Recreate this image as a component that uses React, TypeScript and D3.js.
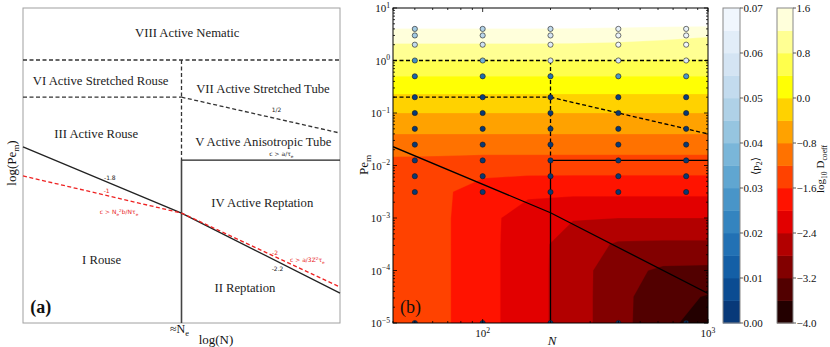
import React, { useEffect, useRef } from 'react'
import * as d3 from 'd3'

// ---------- panel (b) data ----------
const chainLengths = [50, 100, 200, 400, 800]
const pecletValues = [4, 3, 2, 1, 0.5, 0.2, 0.1, 0.05, 0.025, 0.0125, 0.00625, 0.003125, 1e-5]
// <p2> per chain length, same order as pecletValues
const p2N50 = [0.045, 0.045, 0.052, 0.026, 0.014, 0.004, 0.002, 0.002, 0.002, 0.002, 0.002, 0.002, 0.002]
const p2N100 = [0.048, 0.05, 0.055, 0.036, 0.016, 0.004, 0.002, 0.002, 0.002, 0.002, 0.002, 0.002, 0.002]
const p2N200 = [0.052, 0.058, 0.062, 0.058, 0.018, 0.003, 0.002, 0.002, 0.002, 0.002, 0.002, 0.002, 0.002]
const p2N400 = [0.064, 0.066, 0.068, 0.06, 0.028, 0.004, 0.002, 0.002, 0.002, 0.002, 0.002, 0.002, 0.002]
const p2N800 = [0.064, 0.066, 0.068, 0.062, 0.028, 0.004, 0.002, 0.002, 0.002, 0.002, 0.002, 0.002, 0.002]
const p2Table = [p2N50, p2N100, p2N200, p2N400, p2N800]

// log10 D_coeff field, sampled on a log grid (rows = gridLogPe, cols = gridN)
const gridN = [40, 63, 100, 158, 251, 398, 631, 1000]
const gridLogPe = [-5, -4.5, -4, -3.5, -3, -2.5, -2, -1.5, -1, -0.5, 0, 0.5, 1]
const logDRows = [
  [-1.45, -1.5, -1.85, -2.24, -2.59, -3.07, -3.47, -3.83],
  [-1.45, -1.5, -1.85, -2.24, -2.59, -3.07, -3.45, -3.63],
  [-1.45, -1.5, -1.85, -2.24, -2.59, -3.06, -3.27, -3.29],
  [-1.45, -1.5, -1.85, -2.24, -2.58, -2.85, -2.87, -2.87],
  [-1.45, -1.5, -1.85, -2.22, -2.38, -2.4, -2.4, -2.4],
  [-1.45, -1.5, -1.8, -1.91, -1.92, -1.92, -1.92, -1.92],
  [-1.35, -1.37, -1.41, -1.41, -1.41, -1.41, -1.41, -1.41],
  [-0.9, -0.9, -0.9, -0.9, -0.9, -0.9, -0.9, -0.9],
  [-0.4, -0.4, -0.4, -0.4, -0.4, -0.4, -0.4, -0.4],
  [0.15, 0.15, 0.15, 0.15, 0.15, 0.15, 0.15, 0.15],
  [0.78, 0.78, 0.78, 0.78, 0.78, 0.78, 0.78, 0.78],
  [1.43, 1.43, 1.43, 1.43, 1.42, 1.38, 1.32, 1.25],
  [2.2, 2.2, 2.2, 2.2, 2.22, 2.25, 2.3, 2.4],
]
const dLevels = [-4.0, -3.6, -3.2, -2.8, -2.4, -2.0, -1.6, -1.2, -0.8, -0.4, 0.0, 0.4, 0.8, 1.2, 1.6]
const dTicks = [-4.0, -3.2, -2.4, -1.6, -0.8, 0.0, 0.8, 1.6]
const p2Levels = [0, 0.005, 0.01, 0.015, 0.02, 0.025, 0.03, 0.035, 0.04, 0.045, 0.05, 0.055, 0.06, 0.065, 0.07]
const p2Ticks = [0, 0.01, 0.02, 0.03, 0.04, 0.05, 0.06, 0.07]

// regime boundaries in (N, Pe)
const boundaryDashed = [
  [[40, 1], [1000, 1]],
  [[40, 0.2], [200, 0.2]],
  [[200, 1], [200, 0.0125]],
  [[200, 0.2], [1000, 0.04]],
]
const boundarySolid = [
  [[200, 0.0125], [1000, 0.0125]],
  [[200, 0.0125], [200, 1e-5]],
  [[40, 0.0228], [200, 0.00126], [1000, 3.65e-5]],
]

// ---------- panel (a) schematic, unit coordinates ----------
const schemDashed = [
  [[0, 0.835], [1, 0.835]],
  [[0, 0.717], [0.5, 0.717]],
  [[0.5, 0.835], [0.5, 0.517]],
  [[0.5, 0.717], [1, 0.603]],
]
const schemSolid = [
  [[0.5, 0.517], [1, 0.517]],
  [[0, 0.559], [0.5, 0.349], [1, 0.095]],
]
const schemEntangle = [[0.5, 0.517], [0.5, 0]]
const schemRed = [[0, 0.467], [0.5, 0.349], [1, 0.114]]
const schemLabels = [
  { t: 'VIII Active Nematic', x: 0.518, y: 0.921 },
  { t: 'VI Active Stretched Rouse', x: 0.245, y: 0.771 },
  { t: 'VII Active Stretched Tube', x: 0.757, y: 0.744 },
  { t: 'III Active Rouse', x: 0.231, y: 0.602 },
  { t: 'V Active Anisotropic Tube', x: 0.758, y: 0.576 },
  { t: 'IV Active Reptation', x: 0.755, y: 0.383 },
  { t: 'I Rouse', x: 0.248, y: 0.202 },
  { t: 'II Reptation', x: 0.7, y: 0.113 },
]
const schemNotes = [
  { t: '1/2', x: 0.8, y: 0.676, c: '#222' },
  { t: 'c > a/τ_{e}', x: 0.815, y: 0.535, c: '#222' },
  { t: '-1.8', x: 0.274, y: 0.461, c: '#222' },
  { t: '-1', x: 0.264, y: 0.42, c: '#e8231e' },
  { t: 'c > N_{e}^{2}b/Nτ_{e}', x: 0.303, y: 0.352, c: '#e8231e' },
  { t: '-2', x: 0.795, y: 0.223, c: '#e8231e' },
  { t: 'c > a/3Z^{2}τ_{e}', x: 0.897, y: 0.2, c: '#e8231e' },
  { t: '-2.2', x: 0.803, y: 0.17, c: '#222' },
]

const SERIF = "'Liberation Serif', 'DejaVu Serif', serif"
const SANS = "'DejaVu Sans', sans-serif"

const hot = (t: number) => {
  const c = (v: number) => Math.max(0, Math.min(1, v))
  const r = 0.0416 + (1 - 0.0416) * c(t / 0.365079)
  const g = c((t - 0.365079) / (0.746032 - 0.365079))
  const b = c((t - 0.746032) / (1 - 0.746032))
  return d3.rgb(255 * r, 255 * g, 255 * b).formatHex()
}
const blues = (t: number) => d3.interpolateBlues(1 - t)

// text with _{sub} and ^{sup}
function rich(text: any, s: string, size: number) {
  const re = /([_^])\{([^}]*)\}/g
  let last = 0
  let off = 0
  let m: RegExpExecArray | null
  const put = (str: string, dy: number, fs: number) =>
    text.append('tspan').attr('dy', dy).style('font-size', fs + 'px').text(str)
  while ((m = re.exec(s)) !== null) {
    if (m.index > last) {
      put(s.slice(last, m.index), -off, size)
      off = 0
    }
    const d = m[1] === '^' ? -0.38 * size : 0.25 * size
    put(m[2], d - off, size * 0.7)
    off = d
    last = re.lastIndex
  }
  if (last < s.length) put(s.slice(last), -off, size)
}

const App = () => {
  const svgRef = useRef<SVGSVGElement>(null)

  useEffect(() => {
    const svg = d3.select(svgRef.current)
    svg.selectAll('*').remove()

    // ================= panel (a) =================
    const sx = d3.scaleLinear().domain([0, 1]).range([23, 340])
    const sy = d3.scaleLinear().domain([0, 1]).range([323, 8])
    const ga = svg.append('g')
    const sline = d3.line<number[]>().x((d) => sx(d[0])).y((d) => sy(d[1]))

    ga.append('rect')
      .attr('x', sx(0)).attr('y', sy(1))
      .attr('width', sx(1) - sx(0)).attr('height', sy(0) - sy(1))
      .attr('fill', 'none').attr('stroke', '#a0a0a0').attr('stroke-width', 1)

    schemDashed.forEach((seg) =>
      ga.append('path').attr('d', sline(seg)).attr('fill', 'none')
        .attr('stroke', '#333').attr('stroke-width', 1.3).attr('stroke-dasharray', '4,2.5'))
    ga.append('path').attr('d', sline(schemEntangle)).attr('fill', 'none')
      .attr('stroke', '#444').attr('stroke-width', 1.6)
    schemSolid.forEach((seg) =>
      ga.append('path').attr('d', sline(seg)).attr('fill', 'none')
        .attr('stroke', '#222').attr('stroke-width', 1.3))
    ga.append('path').attr('d', sline(schemRed)).attr('fill', 'none')
      .attr('stroke', '#ee2222').attr('stroke-width', 1.3).attr('stroke-dasharray', '4,2.5')

    schemLabels.forEach((l) =>
      ga.append('text').attr('x', sx(l.x)).attr('y', sy(l.y) + 4.5)
        .attr('text-anchor', 'middle').style('font-family', SERIF)
        .style('font-size', '12.7px').style('fill', '#222').text(l.t))
    schemNotes.forEach((l) => {
      const t = ga.append('text').attr('x', sx(l.x)).attr('y', sy(l.y) + 2)
        .attr('text-anchor', 'middle').style('font-family', SANS).style('fill', l.c)
      rich(t, l.t, 6)
    })
    ga.append('text').attr('x', sx(0.056)).attr('y', sy(0.052) + 6)
      .attr('text-anchor', 'middle').style('font-family', SERIF)
      .style('font-size', '18px').style('font-weight', 'bold').style('fill', '#111').text('(a)')
    const ne = ga.append('text').attr('x', sx(0.5) - 2).attr('y', 333)
      .attr('text-anchor', 'middle').style('font-family', SERIF).style('fill', '#111')
    rich(ne, '≈N_{e}', 12)
    ga.append('text').attr('x', 216).attr('y', 344)
      .attr('text-anchor', 'middle').style('font-family', SERIF)
      .style('font-size', '13px').style('fill', '#111').text('log(N)')
    const yl = ga.append('text').attr('transform', 'translate(16,163) rotate(-90)')
      .attr('text-anchor', 'middle').style('font-family', SERIF).style('fill', '#111')
    rich(yl, 'log(Pe_{m})', 13)

    // ================= panel (b) =================
    const xs = d3.scaleLog().domain([40, 1000]).range([393, 708])
    const ys = d3.scaleLog().domain([1e-5, 10]).range([323, 8])
    const gb = svg.append('g')
    svg.append('defs').append('clipPath').attr('id', 'clipB')
      .append('rect').attr('x', 393).attr('y', 8).attr('width', 315).attr('height', 315)
    const plot = gb.append('g').attr('clip-path', 'url(#clipB)')

    const nx = gridN.length
    const ny = gridLogPe.length
    const lx = d3.scaleLinear().domain([0.5, nx - 0.5])
      .range([Math.log10(gridN[0]), Math.log10(gridN[nx - 1])])
    const ly = d3.scaleLinear().domain([0.5, ny - 0.5])
      .range([gridLogPe[0], gridLogPe[ny - 1]])
    const proj = d3.geoTransform({
      point(x: number, y: number) {
        this.stream.point(xs(Math.pow(10, lx(x))), ys(Math.pow(10, ly(y))))
      },
    })
    const gpath = d3.geoPath(proj)
    const field = logDRows.flat()
    const bands = d3.contours().size([nx, ny]).thresholds(dLevels)(field)
    plot.append('rect').attr('x', 393).attr('y', 8).attr('width', 315).attr('height', 315).attr('fill', '#fff')
    bands.forEach((b, k) => {
      const col = k < dLevels.length - 1 ? hot((k + 0.5) / (dLevels.length - 1)) : '#ffffff'
      plot.append('path').attr('d', gpath(b as any)).attr('fill', col).attr('stroke', col).attr('stroke-width', 0.3)
    })

    const bline = d3.line<number[]>().x((d) => xs(d[0])).y((d) => ys(d[1]))
    boundaryDashed.forEach((seg) =>
      plot.append('path').attr('d', bline(seg)).attr('fill', 'none')
        .attr('stroke', '#000').attr('stroke-width', 1.3).attr('stroke-dasharray', '4,2.5'))
    boundarySolid.forEach((seg) =>
      plot.append('path').attr('d', bline(seg)).attr('fill', 'none')
        .attr('stroke', '#000').attr('stroke-width', 1.3))

    chainLengths.forEach((n, i) => {
      pecletValues.forEach((pe, j) => {
        plot.append('circle').attr('cx', xs(n)).attr('cy', ys(pe)).attr('r', 2.6)
          .attr('fill', blues(p2Table[i][j] / 0.07))
          .attr('stroke', '#1a1a1a').attr('stroke-width', 0.6)
      })
    })

    // frame + ticks
    gb.append('rect').attr('x', 393).attr('y', 8).attr('width', 315).attr('height', 315)
      .attr('fill', 'none').attr('stroke', '#000').attr('stroke-width', 1)
    const ticks = gb.append('g').attr('stroke', '#000').attr('stroke-width', 0.8)
    const yMajor = d3.range(-5, 2).map((e) => Math.pow(10, e))
    const yMinor = d3.range(-5, 1).flatMap((e) => d3.range(2, 10).map((k) => k * Math.pow(10, e)))
    const xMajor = [100, 1000]
    const xMinor = [40, 50, 60, 70, 80, 90, 200, 300, 400, 500, 600, 700, 800, 900]
    yMajor.forEach((v) => {
      ticks.append('line').attr('x1', 393).attr('x2', 397).attr('y1', ys(v)).attr('y2', ys(v))
      ticks.append('line').attr('x1', 708).attr('x2', 704).attr('y1', ys(v)).attr('y2', ys(v))
    })
    yMinor.forEach((v) => {
      ticks.append('line').attr('x1', 393).attr('x2', 395).attr('y1', ys(v)).attr('y2', ys(v))
      ticks.append('line').attr('x1', 708).attr('x2', 706).attr('y1', ys(v)).attr('y2', ys(v))
    })
    xMajor.forEach((v) => {
      ticks.append('line').attr('x1', xs(v)).attr('x2', xs(v)).attr('y1', 323).attr('y2', 319)
      ticks.append('line').attr('x1', xs(v)).attr('x2', xs(v)).attr('y1', 8).attr('y2', 12)
    })
    xMinor.forEach((v) => {
      ticks.append('line').attr('x1', xs(v)).attr('x2', xs(v)).attr('y1', 323).attr('y2', 321)
      ticks.append('line').attr('x1', xs(v)).attr('x2', xs(v)).attr('y1', 8).attr('y2', 10)
    })
    yMajor.forEach((v) => {
      const e = Math.round(Math.log10(v))
      const t = gb.append('text').attr('x', 390).attr('y', ys(v) + 4)
        .attr('text-anchor', 'end').style('font-family', SERIF).style('fill', '#111')
      rich(t, `10^{${e < 0 ? '−' + -e : e}}`, 11)
    })
    xMajor.forEach((v) => {
      const t = gb.append('text').attr('x', xs(v)).attr('y', 337)
        .attr('text-anchor', 'middle').style('font-family', SERIF).style('fill', '#111')
      rich(t, `10^{${Math.round(Math.log10(v))}}`, 11)
    })
    gb.append('text').attr('x', 552).attr('y', 345).attr('text-anchor', 'middle')
      .style('font-family', SERIF).style('font-style', 'italic').style('font-size', '13px')
      .style('fill', '#111').text('N')
    const pl = gb.append('text').attr('transform', 'translate(368,165) rotate(-90)')
      .attr('text-anchor', 'middle').style('font-family', SERIF).style('fill', '#111')
    rich(pl, 'Pe_{m}', 13)
    gb.append('text').attr('x', 400).attr('y', 313)
      .style('font-family', SERIF).style('font-size', '18px').style('fill', '#111').text('(b)')

    // ================= colorbars =================
    const drawBar = (x0: number, w: number, levels: number[], color: (t: number) => string,
      tickVals: number[], fmt: (v: number) => string) => {
      const cy = d3.scaleLinear().domain([levels[0], levels[levels.length - 1]]).range([323, 8])
      const g = svg.append('g')
      const nb = levels.length - 1
      d3.range(nb).forEach((k) => {
        g.append('rect').attr('x', x0).attr('y', cy(levels[k + 1]))
          .attr('width', w).attr('height', cy(levels[k]) - cy(levels[k + 1]) + 0.4)
          .attr('fill', color((k + 0.5) / nb))
      })
      g.append('rect').attr('x', x0).attr('y', 8).attr('width', w).attr('height', 315)
        .attr('fill', 'none').attr('stroke', '#888').attr('stroke-width', 1)
      tickVals.forEach((v) => {
        g.append('line').attr('x1', x0 + w).attr('x2', x0 + w + 3)
          .attr('y1', cy(v)).attr('y2', cy(v)).attr('stroke', '#333').attr('stroke-width', 0.8)
        g.append('text').attr('x', x0 + w + 3.5).attr('y', cy(v) + 4)
          .style('font-family', SERIF).style('font-size', '11px').style('fill', '#111').text(fmt(v))
      })
    }
    drawBar(723, 17, p2Levels, blues, p2Ticks, (v) => v.toFixed(2))
    drawBar(777, 16, dLevels, hot, dTicks, (v) => (v < 0 ? '−' + (-v).toFixed(1) : v.toFixed(1)))

    const c1 = svg.append('text').attr('transform', 'translate(759,166) rotate(-90)')
      .attr('text-anchor', 'middle').style('font-family', SERIF).style('fill', '#111')
    rich(c1, '⟨p_{2}⟩', 11)
    const c2 = svg.append('text').attr('transform', 'translate(824,169) rotate(-90)')
      .attr('text-anchor', 'middle').style('font-family', SERIF).style('fill', '#111')
    rich(c2, 'log_{10} D_{coeff}', 11)
  }, [])

  return (
    <svg
      ref={svgRef}
      width={830}
      height={347}
      style={{ position: 'absolute', left: 0, top: 0, background: '#fff' }}
    />
  )
}

export default App
